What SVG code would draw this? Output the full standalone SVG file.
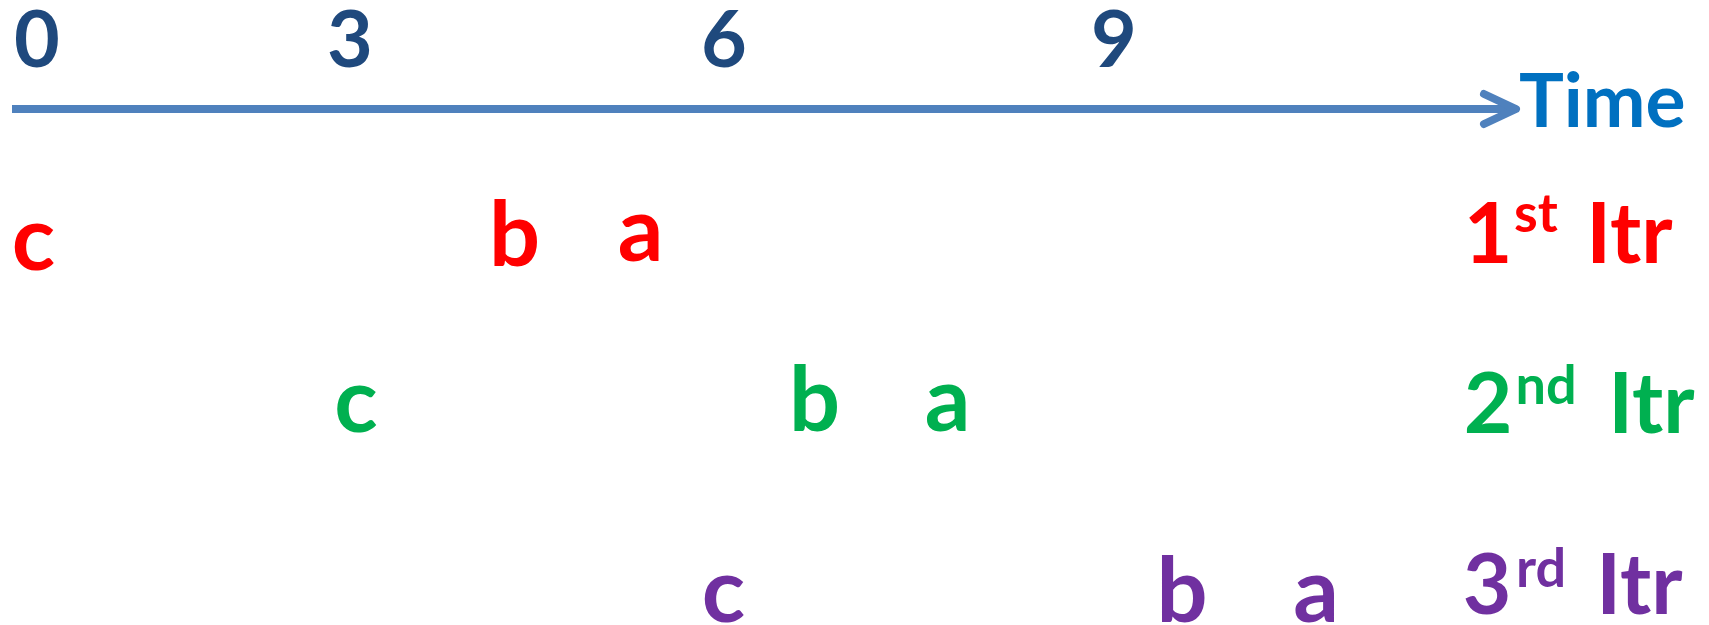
<svg xmlns="http://www.w3.org/2000/svg" width="1709" height="625" viewBox="0 0 1709 625">
<style>
text{font-family:Lato,"Open Sans","Liberation Sans",sans-serif;font-weight:bold}
.tick{font-size:79px;fill:#1F497D;text-anchor:middle}
.let{font-size:90px;text-anchor:middle}
.num{font-size:84px;text-anchor:middle}
.sup{font-size:54px;text-anchor:middle}
.itr{font-size:84px;text-anchor:middle}
.r{fill:#FF0000}.g{fill:#00B050}.p{fill:#7030A0}
.axis{stroke:#4F81BD;stroke-width:8;fill:none;stroke-linecap:round;stroke-linejoin:round}
</style>
<rect width="1709" height="625" fill="#FFFFFF"/>
<g id="connectors">
<path class="axis" d="M12 109 H1512" style="stroke-linecap:butt"/>
<path class="axis" d="M1484 94 L1516 109 L1484 124"/>
</g>
<g id="ticks">
<g id="t0"><text class="tick" x="37" y="67">0</text></g>
<g id="t3"><text class="tick" x="350" y="67">3</text></g>
<g id="t6"><text class="tick" x="724" y="67">6</text></g>
<g id="t9"><text class="tick" x="1114" y="67">9</text></g>
</g>
<g id="time"><text x="1519" y="127" style="font-size:75px;fill:#0070C0">Time</text></g>
<g id="row1">
<g id="c1"><text class="let r" x="33.5" y="270">c</text></g>
<g id="b1"><text class="let r" x="514.5" y="266">b</text></g>
<g id="a1"><text class="let r" x="640.5" y="261">a</text></g>
<g id="itr1"><text class="num r" x="1488" y="263">1</text><text class="sup r" x="1536" y="232">st</text><text class="itr r" x="1629.5" y="263">Itr</text></g>
</g>
<g id="row2">
<g id="c2"><text class="let g" x="356" y="432">c</text></g>
<g id="b2"><text class="let g" x="814.5" y="431">b</text></g>
<g id="a2"><text class="let g" x="947.5" y="431">a</text></g>
<g id="itr2"><text class="num g" x="1488" y="433">2</text><text class="sup g" x="1546" y="404">nd</text><text class="itr g" x="1651.5" y="433">Itr</text></g>
</g>
<g id="row3">
<g id="c3"><text class="let p" x="723.5" y="622">c</text></g>
<g id="b3"><text class="let p" x="1182" y="622">b</text></g>
<g id="a3"><text class="let p" x="1316" y="622">a</text></g>
<g id="itr3"><text class="num p" x="1487" y="614">3</text><text class="sup p" x="1541" y="587">rd</text><text class="itr p" x="1639.5" y="614">Itr</text></g>
</g>
</svg>
